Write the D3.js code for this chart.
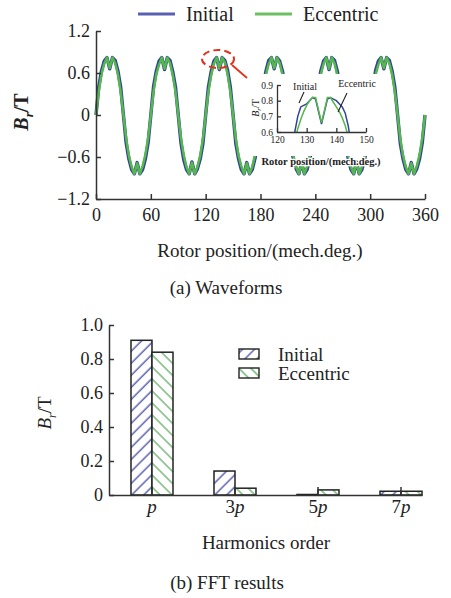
<!DOCTYPE html>
<html>
<head>
<meta charset="utf-8">
<script src="https://cdn.jsdelivr.net/npm/d3@7"></script>
<style>
  body { margin: 0; background: #fff; }
  text { font-family: "Liberation Serif", "Times New Roman", serif; fill: #222; }
  .axis path, .axis line { stroke: #333; stroke-width: 1.5; }
  .axis text { font-family: "Liberation Serif", serif; fill: #222; }
</style>
</head>
<body>
<div id="container"></div>
<script>
/* CONSTANTS AND GLOBALS */
const width = 451;
const height = 598;

/* DATA */
// waveform samples, one every 3 mech. degrees from 0 to 360
const step = 3;
const waveInitial = [
  0.00, 0.40, 0.63, 0.77, 0.82, 0.66, 0.82, 0.78, 0.63, 0.40, 0.00, -0.40, -0.63, -0.78, -0.84, -0.68, -0.84, -0.78, -0.63, -0.40,
  0.00, 0.41, 0.63, 0.77, 0.82, 0.65, 0.82, 0.78, 0.62, 0.40, 0.00, -0.40, -0.64, -0.78, -0.84, -0.67, -0.84, -0.77, -0.63, -0.41,
  0.00, 0.40, 0.62, 0.77, 0.82, 0.65, 0.82, 0.78, 0.64, 0.40, 0.00, -0.41, -0.63, -0.78, -0.84, -0.68, -0.84, -0.78, -0.62, -0.40,
  0.00, 0.41, 0.63, 0.78, 0.82, 0.66, 0.82, 0.77, 0.63, 0.41, 0.00, -0.40, -0.63, -0.77, -0.84, -0.68, -0.84, -0.78, -0.63, -0.40,
  0.00, 0.40, 0.63, 0.77, 0.82, 0.65, 0.82, 0.78, 0.63, 0.40, 0.00, -0.40, -0.62, -0.78, -0.84, -0.67, -0.84, -0.78, -0.63, -0.41,
  0.00, 0.40, 0.64, 0.77, 0.82, 0.66, 0.82, 0.78, 0.63, 0.40, 0.00, -0.41, -0.63, -0.78, -0.84, -0.68, -0.84, -0.77, -0.63, -0.40,
  0.00
];
const waveEccentric = [
  0.00, 0.33, 0.58, 0.73, 0.82, 0.67, 0.82, 0.74, 0.58, 0.33, 0.00, -0.33, -0.58, -0.74, -0.84, -0.69, -0.84, -0.73, -0.57, -0.33,
  0.00, 0.34, 0.58, 0.72, 0.82, 0.66, 0.82, 0.74, 0.57, 0.33, 0.00, -0.33, -0.57, -0.74, -0.84, -0.68, -0.84, -0.74, -0.58, -0.34,
  0.00, 0.33, 0.57, 0.73, 0.82, 0.66, 0.82, 0.75, 0.58, 0.33, 0.00, -0.34, -0.58, -0.73, -0.84, -0.69, -0.84, -0.74, -0.57, -0.33,
  0.00, 0.33, 0.58, 0.73, 0.82, 0.67, 0.82, 0.74, 0.58, 0.34, 0.00, -0.33, -0.58, -0.74, -0.84, -0.69, -0.84, -0.73, -0.58, -0.33,
  0.00, 0.34, 0.58, 0.73, 0.82, 0.66, 0.82, 0.74, 0.57, 0.33, 0.00, -0.33, -0.57, -0.74, -0.84, -0.68, -0.84, -0.74, -0.58, -0.33,
  0.00, 0.33, 0.58, 0.72, 0.82, 0.67, 0.82, 0.74, 0.58, 0.33, 0.00, -0.34, -0.58, -0.74, -0.84, -0.69, -0.84, -0.73, -0.57, -0.33,
  0.00
];
const waveTicksX = [0, 60, 120, 180, 240, 300, 360];
const waveTicksY = [-1.2, -0.6, 0, 0.6, 1.2];

// zoomed inset, 1 degree samples
const insetAngles = [125, 126, 127, 128, 129, 130, 131, 132, 133, 134, 135, 136, 137, 138, 139, 140, 141, 142, 143, 144, 145];
const insetInitial = [0.50, 0.60, 0.70, 0.76, 0.77, 0.78, 0.80, 0.82, 0.81, 0.73, 0.65, 0.73, 0.81, 0.82, 0.81, 0.80, 0.78, 0.76, 0.72, 0.64, 0.52];
const insetEccentric = [0.45, 0.55, 0.62, 0.68, 0.73, 0.77, 0.80, 0.82, 0.82, 0.74, 0.66, 0.74, 0.82, 0.82, 0.79, 0.76, 0.73, 0.69, 0.64, 0.57, 0.48];
const insetTicksX = [120, 130, 140, 150];
const insetTicksY = [0.6, 0.7, 0.8, 0.9];

// FFT
const harmonics = ["p", "3p", "5p", "7p"];
const harmonicNumber = ["", "3", "5", "7"];
const fftInitial = [0.91, 0.141, 0.003, 0.022];
const fftEccentric = [0.84, 0.04, 0.03, 0.022];
const fftTicksY = [0, 0.2, 0.4, 0.6, 0.8, 1.0];

const seriesNames = ["Initial", "Eccentric"];
const lineColors = ["#34439a", "#55b84c"];
const legendColors = ["#5a61b2", "#6cc062"];
const hatchColors = ["#4b4fa6", "#5fae62"];

const fmt = d => d === 0 ? "0" : d3.format(".1f")(d);

/* HTML ELEMENTS */
const svg = d3.select("#container")
  .append("svg")
  .attr("width", width)
  .attr("height", height)

/* ===== (a) WAVEFORMS ===== */
const x = d3.scaleLinear().domain([0, 360]).range([96, 425])
const y = d3.scaleLinear().domain([-1.2, 1.2]).range([199, 31])

const line = d3.line()
  .x((d, i) => x(i * step))
  .y(d => y(d))

svg.append("path")
  .attr("d", line(waveInitial))
  .attr("fill", "none")
  .attr("stroke", lineColors[0])
  .attr("stroke-width", 3.4)
  .attr("stroke-linejoin", "round")

svg.append("path")
  .attr("d", line(waveEccentric))
  .attr("fill", "none")
  .attr("stroke", lineColors[1])
  .attr("stroke-width", 2.5)
  .attr("stroke-linejoin", "round")

svg.append("g")
  .attr("class", "axis")
  .attr("transform", `translate(0, ${y(-1.2)})`)
  .call(d3.axisBottom(x).tickValues(waveTicksX).tickSize(-5).tickSizeOuter(0).tickPadding(9))
  .call(g => g.selectAll("text").style("font-size", "18px"))

svg.append("g")
  .attr("class", "axis")
  .attr("transform", `translate(${x(0)}, 0)`)
  .call(d3.axisLeft(y).tickValues(waveTicksY).tickFormat(fmt).tickSize(-5).tickSizeOuter(0).tickPadding(6))
  .call(g => g.selectAll("text").style("font-size", "18px"))

// top legend
seriesNames.forEach((name, i) => {
  const lx = [138, 255][i]
  svg.append("line")
    .attr("x1", lx).attr("x2", lx + 37)
    .attr("y1", 14).attr("y2", 14)
    .attr("stroke", legendColors[i])
    .attr("stroke-width", 2.8)
  svg.append("text")
    .attr("x", lx + 48).attr("y", 21)
    .style("font-size", "20px")
    .text(name)
})

// y title
const yt = svg.append("text")
  .attr("transform", "translate(28, 112) rotate(-90)")
  .attr("text-anchor", "middle")
  .style("font-size", "20px")
  .style("font-weight", "bold")
yt.append("tspan").style("font-style", "italic").text("B")
yt.append("tspan").style("font-style", "italic").style("font-size", "13px").attr("dy", 5).text("r")
yt.append("tspan").attr("dy", -5).text("/T")

svg.append("text")
  .attr("x", 260).attr("y", 257)
  .attr("text-anchor", "middle")
  .style("font-size", "19px")
  .text("Rotor position/(mech.deg.)")

svg.append("text")
  .attr("x", 226).attr("y", 294)
  .attr("text-anchor", "middle")
  .style("font-size", "19px")
  .text("(a) Waveforms")

// red marker around the zoomed peak
svg.append("ellipse")
  .attr("cx", x(133.5)).attr("cy", y(0.8))
  .attr("rx", 16).attr("ry", 9)
  .attr("fill", "none")
  .attr("stroke", "#e2321e")
  .attr("stroke-width", 2)
  .attr("stroke-dasharray", "7,4")
svg.append("line")
  .attr("x1", 232).attr("y1", 65)
  .attr("x2", 247).attr("y2", 78)
  .attr("stroke", "#e2321e")
  .attr("stroke-width", 1.8)

/* ----- inset ----- */
svg.append("rect")
  .attr("x", 249).attr("y", 74)
  .attr("width", 132).attr("height", 82)
  .attr("fill", "#fff")

const xi = d3.scaleLinear().domain([120, 150]).range([277, 366])
const yi = d3.scaleLinear().domain([0.6, 0.9]).range([132, 85])

svg.append("clipPath").attr("id", "insetClip")
  .append("rect")
  .attr("x", xi(120)).attr("y", yi(0.9) - 4)
  .attr("width", xi(150) - xi(120)).attr("height", yi(0.6) - yi(0.9) + 4)

const insetLine = d3.line()
  .x((d, i) => xi(insetAngles[i]))
  .y(d => yi(d))

const insetG = svg.append("g").attr("clip-path", "url(#insetClip)")
insetG.append("path")
  .attr("d", insetLine(insetInitial))
  .attr("fill", "none").attr("stroke", lineColors[0]).attr("stroke-width", 1.5)
insetG.append("path")
  .attr("d", insetLine(insetEccentric))
  .attr("fill", "none").attr("stroke", lineColors[1]).attr("stroke-width", 1.5)

svg.append("g")
  .attr("class", "axis")
  .attr("transform", `translate(0, ${yi(0.6)})`)
  .call(d3.axisBottom(xi).tickValues(insetTicksX).tickSize(-4).tickSizeOuter(0).tickPadding(4))
  .call(g => g.selectAll("text").style("font-size", "9.5px"))
  .call(g => g.selectAll("path, line").style("stroke-width", 1.3))

svg.append("g")
  .attr("class", "axis")
  .attr("transform", `translate(${xi(120)}, 0)`)
  .call(d3.axisLeft(yi).tickValues(insetTicksY).tickFormat(d3.format(".1f")).tickSize(-4).tickSizeOuter(0).tickPadding(4))
  .call(g => g.selectAll("text").style("font-size", "9.5px"))
  .call(g => g.selectAll("path, line").style("stroke-width", 1.3))

const yti = svg.append("text")
  .attr("transform", "translate(259, 108) rotate(-90)")
  .attr("text-anchor", "middle")
  .style("font-size", "10px")
yti.append("tspan").style("font-style", "italic").text("B")
yti.append("tspan").style("font-style", "italic").style("font-size", "7px").attr("dy", 2).text("r")
yti.append("tspan").attr("dy", -2).text("/T")

svg.append("text")
  .attr("x", 321).attr("y", 165)
  .attr("text-anchor", "middle")
  .style("font-size", "10.5px")
  .style("font-weight", "bold")
  .style("paint-order", "stroke")
  .style("stroke", "#fff")
  .style("stroke-width", 2.5)
  .text("Rotor position/(mech.deg.)")

svg.append("text")
  .attr("x", 305).attr("y", 90)
  .attr("text-anchor", "middle")
  .style("font-size", "10px")
  .text(seriesNames[0])
svg.append("line")
  .attr("x1", 304).attr("y1", 92).attr("x2", 299).attr("y2", 103)
  .attr("stroke", "#222").attr("stroke-width", 1.1)

svg.append("text")
  .attr("x", 357).attr("y", 87)
  .attr("text-anchor", "middle")
  .style("font-size", "10px")
  .text(seriesNames[1])
svg.append("line")
  .attr("x1", 347).attr("y1", 93).attr("x2", 338).attr("y2", 112)
  .attr("stroke", "#222").attr("stroke-width", 1.1)

/* ===== (b) FFT RESULTS ===== */
const defs = svg.append("defs")
hatchColors.forEach((c, i) => {
  const pat = defs.append("pattern")
    .attr("id", "hatch" + i)
    .attr("patternUnits", "userSpaceOnUse")
    .attr("width", 8.5).attr("height", 8.5)
    .attr("patternTransform", `rotate(${i === 0 ? 45 : -45})`)
  pat.append("rect").attr("width", 8.5).attr("height", 8.5).attr("fill", "#fff")
  pat.append("line")
    .attr("x1", 2).attr("x2", 2).attr("y1", 0).attr("y2", 8.5)
    .attr("stroke", c).attr("stroke-width", 1.3)
})

const xb = d3.scaleBand()
  .domain(harmonics)
  .range([109, 422])
  .paddingInner(0.494)
  .paddingOuter(0.1325)
  .align(1)
const xs = d3.scaleBand()
  .domain(seriesNames)
  .range([0, xb.bandwidth()])
const yb = d3.scaleLinear().domain([0, 1]).range([495, 325])

const fftRows = harmonics.map((h, i) => ({ h, values: [fftInitial[i], fftEccentric[i]] }))

svg.append("g")
  .selectAll("g.group")
  .data(fftRows)
  .join("g")
  .attr("class", "group")
  .attr("transform", d => `translate(${xb(d.h)}, 0)`)
  .selectAll("rect.bar")
  .data(d => d.values.map((v, j) => ({ v, j })))
  .join("rect")
  .attr("class", "bar")
  .attr("x", d => xs(seriesNames[d.j]))
  .attr("y", d => yb(d.v))
  .attr("width", xs.bandwidth())
  .attr("height", d => yb(0) - yb(d.v))
  .attr("fill", d => `url(#hatch${d.j})`)
  .attr("stroke", "#222")
  .attr("stroke-width", 1.5)

svg.append("g")
  .attr("class", "axis")
  .attr("transform", `translate(0, ${yb(0)})`)
  .call(d3.axisBottom(xb).tickSize(-8).tickSizeOuter(0).tickPadding(5).tickFormat(() => ""))
  .call(g => g.selectAll(".tick text").each(function(d, i) {
    const t = d3.select(this).style("font-size", "19px")
    t.append("tspan").text(harmonicNumber[i])
    t.append("tspan").style("font-style", "italic").text("p")
  }))

svg.append("g")
  .attr("class", "axis")
  .attr("transform", `translate(${xb.range()[0]}, 0)`)
  .call(d3.axisLeft(yb).tickValues(fftTicksY).tickFormat(fmt).tickSize(-5).tickSizeOuter(0).tickPadding(6))
  .call(g => g.selectAll("text").style("font-size", "18px"))

const ytb = svg.append("text")
  .attr("transform", "translate(51, 413) rotate(-90)")
  .attr("text-anchor", "middle")
  .style("font-size", "19px")
ytb.append("tspan").style("font-style", "italic").text("B")
ytb.append("tspan").style("font-style", "italic").style("font-size", "12px").attr("dy", 5).text("r")
ytb.append("tspan").attr("dy", -5).text("/T")

// bottom legend
seriesNames.forEach((name, i) => {
  const ly = [349, 368][i]
  svg.append("rect")
    .attr("x", 239).attr("y", ly)
    .attr("width", 20).attr("height", 10)
    .attr("fill", `url(#hatch${i})`)
    .attr("stroke", "#222").attr("stroke-width", 1.4)
  svg.append("text")
    .attr("x", 278).attr("y", ly + 12)
    .style("font-size", "19px")
    .text(name)
})

svg.append("text")
  .attr("x", 266).attr("y", 549)
  .attr("text-anchor", "middle")
  .style("font-size", "19px")
  .text("Harmonics order")

svg.append("text")
  .attr("x", 227).attr("y", 589)
  .attr("text-anchor", "middle")
  .style("font-size", "19px")
  .text("(b) FFT results")
</script>
</body>
</html>
